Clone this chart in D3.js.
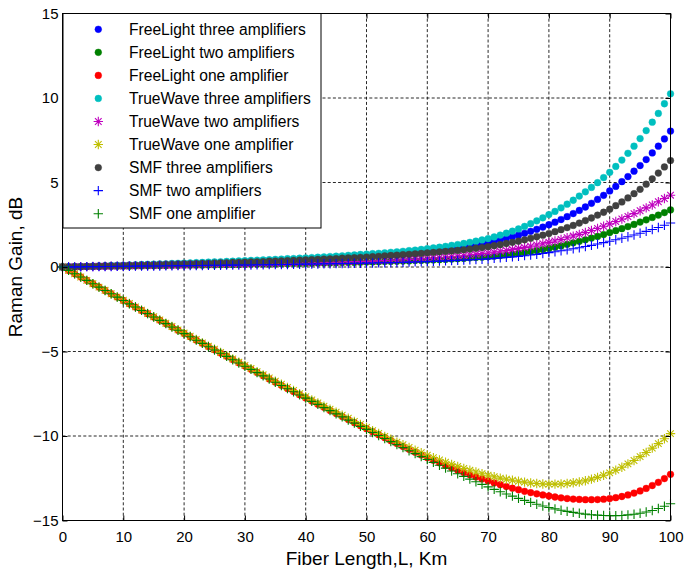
<!DOCTYPE html>
<html>
<head>
<meta charset="utf-8">
<script src="https://cdn.jsdelivr.net/npm/d3@7"></script>
<style>
  html, body { margin: 0; padding: 0; background: #fff; }
  svg { display: block; font-family: "Liberation Sans", Arial, Helvetica, sans-serif; }
</style>
</head>
<body>
<svg id="chart" width="685" height="572"></svg>
<script>
// Fiber length samples (km)
const fiberLengthKm = [
  0, 1, 2, 3, 4, 5, 6, 7, 8, 9, 10, 11, 12, 13, 14, 15, 16, 17, 18, 19,
  20, 21, 22, 23, 24, 25, 26, 27, 28, 29, 30, 31, 32, 33, 34, 35, 36, 37, 38, 39,
  40, 41, 42, 43, 44, 45, 46, 47, 48, 49, 50, 51, 52, 53, 54, 55, 56, 57, 58, 59,
  60, 61, 62, 63, 64, 65, 66, 67, 68, 69, 70, 71, 72, 73, 74, 75, 76, 77, 78, 79,
  80, 81, 82, 83, 84, 85, 86, 87, 88, 89, 90, 91, 92, 93, 94, 95, 96, 97, 98, 99, 100
];

// Raman gain (dB) for each fiber / amplifier configuration
const freeLightThree = [
  0, .01, .02, .02, .03, .04, .05, .06, .07, .08,
  .09, .10, .11, .12, .13, .14, .15, .16, .18, .19,
  .20, .21, .22, .24, .25, .26, .27, .28, .30, .31,
  .32, .34, .35, .37, .38, .40, .42, .43, .45, .46,
  .48, .50, .52, .53, .55, .57, .59, .61, .64, .66,
  .68, .71, .74, .76, .79, .82, .85, .88, .92, .95,
  .98, 1.02, 1.06, 1.10, 1.14, 1.18, 1.23, 1.28, 1.34, 1.39,
  1.45, 1.53, 1.61, 1.69, 1.79, 1.88, 1.99, 2.11, 2.23, 2.36,
  2.50, 2.65, 2.81, 2.98, 3.16, 3.35, 3.55, 3.77, 4.00, 4.24,
  4.50, 4.77, 5.05, 5.35, 5.67, 6.00, 6.36, 6.75, 7.15, 7.58,
  8.04
];
const freeLightTwo = [
  0, 0, .01, .01, .02, .02, .03, .04, .04, .05,
  .05, .05, .06, .06, .07, .07, .08, .08, .09, .09,
  .10, .10, .11, .11, .12, .12, .13, .13, .14, .14,
  .15, .16, .16, .17, .17, .18, .19, .19, .20, .20,
  .21, .22, .23, .23, .24, .25, .26, .27, .27, .28,
  .29, .30, .31, .32, .33, .34, .35, .36, .38, .39,
  .40, .42, .43, .45, .47, .49, .51, .54, .56, .58,
  .61, .64, .68, .72, .76, .80, .85, .91, .97, 1.03,
  1.10, 1.17, 1.25, 1.34, 1.43, 1.52, 1.61, 1.71, 1.81, 1.92,
  2.04, 2.15, 2.27, 2.39, 2.52, 2.66, 2.79, 2.93, 3.07, 3.22,
  3.38
];
const freeLightOne = [
  0, -.20, -.40, -.59, -.79, -.99, -1.19, -1.39, -1.58, -1.78,
  -1.98, -2.18, -2.37, -2.57, -2.76, -2.96, -3.15, -3.35, -3.54, -3.74,
  -3.93, -4.12, -4.32, -4.51, -4.71, -4.90, -5.09, -5.28, -5.48, -5.67,
  -5.86, -6.05, -6.24, -6.43, -6.62, -6.81, -7.00, -7.19, -7.37, -7.56,
  -7.75, -7.93, -8.12, -8.30, -8.49, -8.67, -8.85, -9.03, -9.21, -9.39,
  -9.57, -9.75, -9.93, -10.10, -10.28, -10.45, -10.62, -10.79, -10.96, -11.12,
  -11.28, -11.44, -11.59, -11.74, -11.88, -12.02, -12.16, -12.29, -12.42, -12.54,
  -12.66, -12.78, -12.88, -12.99, -13.09, -13.18, -13.27, -13.35, -13.42, -13.49,
  -13.55, -13.61, -13.66, -13.70, -13.73, -13.75, -13.77, -13.77, -13.76, -13.74,
  -13.70, -13.65, -13.58, -13.49, -13.38, -13.25, -13.10, -12.93, -12.74, -12.52,
  -12.27
];
const trueWaveThree = [
  0, .01, .02, .03, .04, .05, .06, .07, .09, .10,
  .11, .12, .13, .15, .16, .17, .18, .19, .21, .22,
  .23, .24, .26, .27, .29, .30, .31, .33, .34, .36,
  .37, .39, .40, .42, .43, .45, .47, .49, .50, .52,
  .54, .56, .58, .60, .62, .64, .66, .69, .71, .74,
  .76, .79, .81, .84, .87, .90, .93, .97, 1.00, 1.04,
  1.08, 1.13, 1.17, 1.22, 1.28, 1.33, 1.39, 1.46, 1.53, 1.60,
  1.68, 1.78, 1.89, 2.00, 2.12, 2.25, 2.40, 2.56, 2.73, 2.91,
  3.10, 3.29, 3.50, 3.72, 3.95, 4.20, 4.45, 4.71, 4.99, 5.29,
  5.60, 5.95, 6.33, 6.73, 7.15, 7.60, 8.07, 8.57, 9.09, 9.66,
  10.25
];
const trueWaveTwo = [
  0, .01, .01, .02, .02, .03, .04, .04, .05, .05,
  .06, .07, .07, .08, .08, .09, .10, .10, .11, .11,
  .12, .13, .13, .14, .14, .15, .16, .16, .17, .17,
  .18, .19, .20, .20, .21, .22, .23, .24, .24, .25,
  .26, .27, .28, .28, .29, .30, .31, .32, .32, .33,
  .34, .35, .37, .38, .40, .41, .43, .45, .46, .48,
  .50, .53, .55, .58, .61, .64, .67, .71, .75, .79,
  .83, .88, .93, .98, 1.04, 1.10, 1.16, 1.23, 1.30, 1.38,
  1.46, 1.54, 1.63, 1.73, 1.83, 1.93, 2.04, 2.16, 2.28, 2.41,
  2.55, 2.69, 2.84, 2.99, 3.16, 3.33, 3.50, 3.67, 3.86, 4.05,
  4.25
];
const trueWaveOne = [
  0, -.20, -.40, -.59, -.79, -.99, -1.19, -1.38, -1.58, -1.77,
  -1.97, -2.16, -2.36, -2.55, -2.75, -2.94, -3.13, -3.33, -3.52, -3.72,
  -3.91, -4.10, -4.29, -4.49, -4.68, -4.87, -5.06, -5.25, -5.44, -5.63,
  -5.82, -6.01, -6.20, -6.38, -6.57, -6.76, -6.94, -7.13, -7.31, -7.50,
  -7.68, -7.86, -8.04, -8.23, -8.41, -8.59, -8.77, -8.95, -9.14, -9.32,
  -9.50, -9.68, -9.85, -10.02, -10.19, -10.36, -10.52, -10.68, -10.84, -10.99,
  -11.14, -11.28, -11.42, -11.55, -11.68, -11.80, -11.92, -12.03, -12.13, -12.23,
  -12.32, -12.41, -12.49, -12.56, -12.62, -12.68, -12.73, -12.78, -12.81, -12.84,
  -12.85, -12.85, -12.84, -12.81, -12.77, -12.72, -12.65, -12.55, -12.45, -12.32,
  -12.18, -12.02, -11.85, -11.65, -11.45, -11.22, -10.98, -10.72, -10.45, -10.16,
  -9.86
];
const smfThree = [
  0, .01, .02, .02, .03, .04, .05, .06, .06, .07,
  .08, .09, .10, .11, .12, .13, .14, .15, .16, .17,
  .18, .19, .20, .21, .22, .23, .24, .25, .27, .28,
  .29, .30, .31, .32, .34, .35, .36, .38, .39, .41,
  .42, .44, .45, .47, .48, .50, .52, .54, .55, .57,
  .59, .61, .63, .66, .68, .70, .73, .75, .78, .80,
  .83, .86, .89, .92, .95, .98, 1.02, 1.06, 1.11, 1.15,
  1.20, 1.26, 1.32, 1.39, 1.46, 1.53, 1.61, 1.70, 1.79, 1.88,
  1.98, 2.09, 2.21, 2.33, 2.46, 2.60, 2.75, 2.90, 3.07, 3.24,
  3.42, 3.63, 3.85, 4.09, 4.34, 4.60, 4.90, 5.22, 5.56, 5.92,
  6.30
];
const smfTwo = [
  0, 0, .01, .01, .02, .02, .02, .03, .03, .04,
  .04, .04, .05, .05, .06, .06, .06, .07, .07, .08,
  .08, .08, .09, .09, .10, .10, .10, .11, .11, .12,
  .12, .12, .13, .13, .14, .14, .15, .15, .16, .16,
  .17, .18, .18, .19, .19, .20, .21, .21, .22, .22,
  .23, .24, .25, .25, .26, .27, .28, .29, .30, .31,
  .32, .33, .35, .36, .38, .39, .41, .42, .44, .46,
  .48, .51, .54, .57, .60, .63, .67, .71, .75, .80,
  .85, .90, .96, 1.01, 1.08, 1.14, 1.21, 1.28, 1.36, 1.44,
  1.52, 1.61, 1.70, 1.79, 1.89, 2.00, 2.11, 2.22, 2.34, 2.47,
  2.60
];
const smfOne = [
  0, -.20, -.40, -.59, -.79, -.99, -1.19, -1.39, -1.58, -1.78,
  -1.98, -2.18, -2.37, -2.57, -2.76, -2.96, -3.16, -3.35, -3.55, -3.74,
  -3.94, -4.13, -4.33, -4.52, -4.72, -4.91, -5.10, -5.29, -5.49, -5.68,
  -5.87, -6.06, -6.25, -6.44, -6.63, -6.82, -7.01, -7.20, -7.38, -7.57,
  -7.76, -7.95, -8.13, -8.32, -8.50, -8.69, -8.87, -9.06, -9.24, -9.43,
  -9.61, -9.79, -9.97, -10.15, -10.33, -10.51, -10.69, -10.87, -11.04, -11.22,
  -11.39, -11.56, -11.73, -11.90, -12.07, -12.23, -12.39, -12.55, -12.71, -12.86,
  -13.01, -13.16, -13.30, -13.43, -13.56, -13.69, -13.81, -13.93, -14.04, -14.14,
  -14.23, -14.31, -14.39, -14.46, -14.52, -14.57, -14.62, -14.66, -14.68, -14.70,
  -14.71, -14.71, -14.70, -14.67, -14.63, -14.57, -14.50, -14.41, -14.29, -14.16,
  -14.01
];

const seriesNames = [
  "FreeLight three amplifiers",
  "FreeLight two amplifiers",
  "FreeLight one amplifier",
  "TrueWave three amplifiers",
  "TrueWave two amplifiers",
  "TrueWave one amplifier",
  "SMF three amplifiers",
  "SMF two amplifiers",
  "SMF one amplifier"
];
const xTicks = [0, 10, 20, 30, 40, 50, 60, 70, 80, 90, 100];
const yTicks = [-15, -10, -5, 0, 5, 10, 15];

// ---- marker shapes (stroked plus and asterisk as d3 symbol types) ----
const symbolPlusStroke = {
  draw(ctx, size) {
    const r = Math.sqrt(size) / 2;
    ctx.moveTo(-r, 0); ctx.lineTo(r, 0);
    ctx.moveTo(0, -r); ctx.lineTo(0, r);
  }
};
const symbolAsterisk = {
  draw(ctx, size) {
    const r = Math.sqrt(size) / 2, d = r * 0.7071;
    ctx.moveTo(-r, 0); ctx.lineTo(r, 0);
    ctx.moveTo(0, -r); ctx.lineTo(0, r);
    ctx.moveTo(-d, -d); ctx.lineTo(d, d);
    ctx.moveTo(-d, d); ctx.lineTo(d, -d);
  }
};

const dot = { type: d3.symbolCircle, size: 36, filled: true };
const plus = { type: symbolPlusStroke, size: 88, filled: false };
const star = { type: symbolAsterisk, size: 88, filled: false };

const series = [
  { name: seriesNames[0], values: freeLightThree, color: "#0000ff", marker: dot },
  { name: seriesNames[1], values: freeLightTwo,   color: "#008000", marker: dot },
  { name: seriesNames[2], values: freeLightOne,   color: "#ff0000", marker: dot },
  { name: seriesNames[3], values: trueWaveThree,  color: "#00bfbf", marker: dot },
  { name: seriesNames[4], values: trueWaveTwo,    color: "#bf00bf", marker: star },
  { name: seriesNames[5], values: trueWaveOne,    color: "#bfbf00", marker: star },
  { name: seriesNames[6], values: smfThree,       color: "#404040", marker: dot },
  { name: seriesNames[7], values: smfTwo,         color: "#0000ff", marker: plus },
  { name: seriesNames[8], values: smfOne,         color: "#008000", marker: plus }
];

// ---- layout ----
const svg = d3.select("#chart");
svg.append("rect").attr("width", 685).attr("height", 572).attr("fill", "#fff");

const plotLeft = 62.5, plotRight = 670.5, plotTop = 13.5, plotBottom = 520.5;
const x = d3.scaleLinear().domain([0, 100]).range([plotLeft, plotRight]);
const y = d3.scaleLinear().domain([-15, 15]).range([plotBottom, plotTop]);

// grid
const grid = svg.append("g").attr("stroke", "#111").attr("stroke-width", 0.9)
  .attr("stroke-dasharray", "3,2.2").attr("fill", "none");
grid.selectAll(".gx").data(xTicks).join("line")
  .attr("x1", d => x(d)).attr("x2", d => x(d))
  .attr("y1", plotTop).attr("y2", plotBottom);
grid.selectAll(".gy").data(yTicks).join("line")
  .attr("y1", d => y(d)).attr("y2", d => y(d))
  .attr("x1", plotLeft).attr("x2", plotRight);

// data markers
function markerPath(m) {
  return d3.symbol().type(m.type).size(m.size)();
}
const marks = svg.append("g");
series.forEach(s => {
  const pts = s.values.map((v, i) => [fiberLengthKm[i], v]);
  const g = marks.append("g");
  const p = markerPath(s.marker);
  g.selectAll("path").data(pts).join("path")
    .attr("transform", d => `translate(${x(d[0])},${y(d[1])})`)
    .attr("d", p)
    .attr("fill", s.marker.filled ? s.color : "none")
    .attr("stroke", s.color)
    .attr("stroke-width", s.marker.filled ? 0.4 : 1.1);
});

// axes
const axisFont = 15;
const xAxis = d3.axisBottom(x).tickValues(xTicks).tickSizeInner(-5).tickSizeOuter(0).tickPadding(10.5);
const yAxis = d3.axisLeft(y).tickValues(yTicks).tickSizeInner(-5).tickSizeOuter(0).tickPadding(4);
const gx = svg.append("g").attr("transform", `translate(0,${plotBottom})`).call(xAxis);
const gy = svg.append("g").attr("transform", `translate(${plotLeft},0)`).call(yAxis);
const gxTop = svg.append("g").attr("transform", `translate(0,${plotTop})`)
  .call(d3.axisTop(x).tickValues(xTicks).tickSizeInner(-5).tickSizeOuter(0).tickFormat(""));
const gyRight = svg.append("g").attr("transform", `translate(${plotRight},0)`)
  .call(d3.axisRight(y).tickValues(yTicks).tickSizeInner(-5).tickSizeOuter(0).tickFormat(""));
[gx, gy, gxTop, gyRight].forEach(g => {
  g.select(".domain").remove();
  g.selectAll(".tick line").attr("stroke", "#000");
  g.selectAll(".tick text").attr("fill", "#000").attr("font-size", axisFont)
    .attr("font-family", "'Liberation Sans', Arial, sans-serif");
});

// frame
svg.append("rect")
  .attr("x", plotLeft).attr("y", plotTop)
  .attr("width", plotRight - plotLeft).attr("height", plotBottom - plotTop)
  .attr("fill", "none").attr("stroke", "#000").attr("stroke-width", 1);

// axis titles
svg.append("text")
  .attr("x", (plotLeft + plotRight) / 2).attr("y", 565)
  .attr("text-anchor", "middle").attr("font-size", 19).attr("fill", "#000")
  .text("Fiber Length,L, Km");
svg.append("text")
  .attr("transform", `translate(21.5,${(plotTop + plotBottom) / 2}) rotate(-90)`)
  .attr("text-anchor", "middle").attr("font-size", 19).attr("fill", "#000")
  .text("Raman Gain, dB");

// legend
const legend = svg.append("g");
const legX = 63, legY = 13.5, legW = 258, legH = 214.5, rowStep = 23.05, firstRow = 29.3;
legend.append("rect")
  .attr("x", legX).attr("y", legY).attr("width", legW).attr("height", legH)
  .attr("fill", "#fff").attr("stroke", "#000").attr("stroke-width", 1);
const rows = legend.selectAll(".row").data(series).join("g")
  .attr("transform", (d, i) => `translate(0,${firstRow + i * rowStep})`);
rows.append("path")
  .attr("transform", "translate(98.3,0)")
  .attr("d", d => markerPath(d.marker))
  .attr("fill", d => d.marker.filled ? d.color : "none")
  .attr("stroke", d => d.color)
  .attr("stroke-width", d => d.marker.filled ? 0.4 : 1.1);
rows.append("text")
  .attr("x", 129).attr("y", 0).attr("dy", "0.36em")
  .attr("font-size", 15.6).attr("fill", "#000")
  .text(d => d.name);
</script>
</body>
</html>
